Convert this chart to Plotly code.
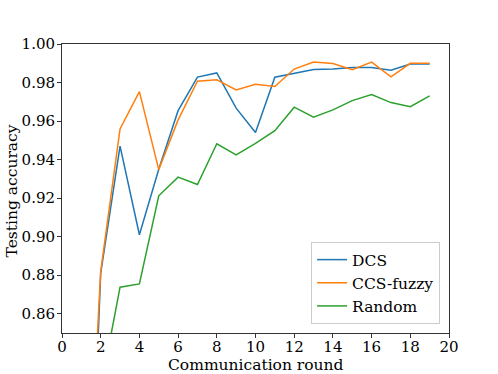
import plotly.graph_objects as go

rounds = list(range(1, 20))
dcs = [0.63, 0.881, 0.947, 0.901, 0.935, 0.9654, 0.9828, 0.985, 0.9667, 0.9541,
       0.9828, 0.9849, 0.9868, 0.987, 0.9878, 0.9878, 0.9864, 0.9896, 0.9896]
ccs_fuzzy = [0.69, 0.882, 0.9559, 0.9753, 0.9348, 0.9606, 0.9807, 0.9814, 0.9762, 0.9791,
             0.9779, 0.987, 0.9906, 0.9899, 0.9866, 0.9906, 0.983, 0.99, 0.99]
rnd = [0.70, 0.821, 0.8738, 0.8755, 0.9212, 0.9309, 0.9271, 0.9482, 0.9425, 0.9484,
       0.955, 0.9672, 0.962, 0.9658, 0.9706, 0.9738, 0.9696, 0.9675, 0.9731]

x_ticks = list(range(0, 21, 2))
y_ticks = [0.86, 0.88, 0.90, 0.92, 0.94, 0.96, 0.98, 1.00]

fig = go.Figure()
for name, vals, color in [('DCS', dcs, '#1f77b4'),
                          ('CCS-fuzzy', ccs_fuzzy, '#ff7f0e'),
                          ('Random', rnd, '#2ca02c')]:
    fig.add_trace(go.Scatter(x=rounds, y=vals, mode='lines', name=name,
                             line=dict(color=color, width=1.5)))

axis_style = dict(showline=True, linecolor='#333333', linewidth=1, mirror=True,
                  ticks='outside', ticklen=4, tickcolor='#333333',
                  showgrid=False, zeroline=False, automargin=False,
                  tickfont=dict(size=15, color='black'))

fig.update_layout(
    width=498, height=374,
    margin=dict(l=62, r=49, t=44, b=41),
    paper_bgcolor='white', plot_bgcolor='white',
    font=dict(family='DejaVu Serif', color='black'),
    xaxis=dict(range=[0, 20], tickvals=x_ticks, ticklabelstandoff=-4, **axis_style),
    yaxis=dict(range=[0.85, 1.0], tickvals=y_ticks, tickformat='.2f',
               ticklabelstandoff=-1, **axis_style),
    legend=dict(x=0.977, y=0.031, xanchor='right', yanchor='bottom',
                bgcolor='rgba(255,255,255,0.8)', bordercolor='#cccccc', borderwidth=1,
                font=dict(size=15.5), tracegroupgap=0, itemwidth=30),
    showlegend=True,
)

# axis titles as annotations so they sit where the original puts them
fig.add_annotation(text='Communication round', xref='paper', yref='paper',
                   x=0.5, y=-0.074, xanchor='center', yanchor='top',
                   showarrow=False, font=dict(size=15.5))
fig.add_annotation(text='Testing accuracy', xref='paper', yref='paper',
                   x=-0.129, y=0.49, xanchor='center', yanchor='middle',
                   textangle=-90, showarrow=False, font=dict(size=15.5))

# drop the default 8px page margin so the figure fills the window
fig.write_html("out.html", config={'displayModeBar': False},
               post_script="document.body.style.margin='0';")
